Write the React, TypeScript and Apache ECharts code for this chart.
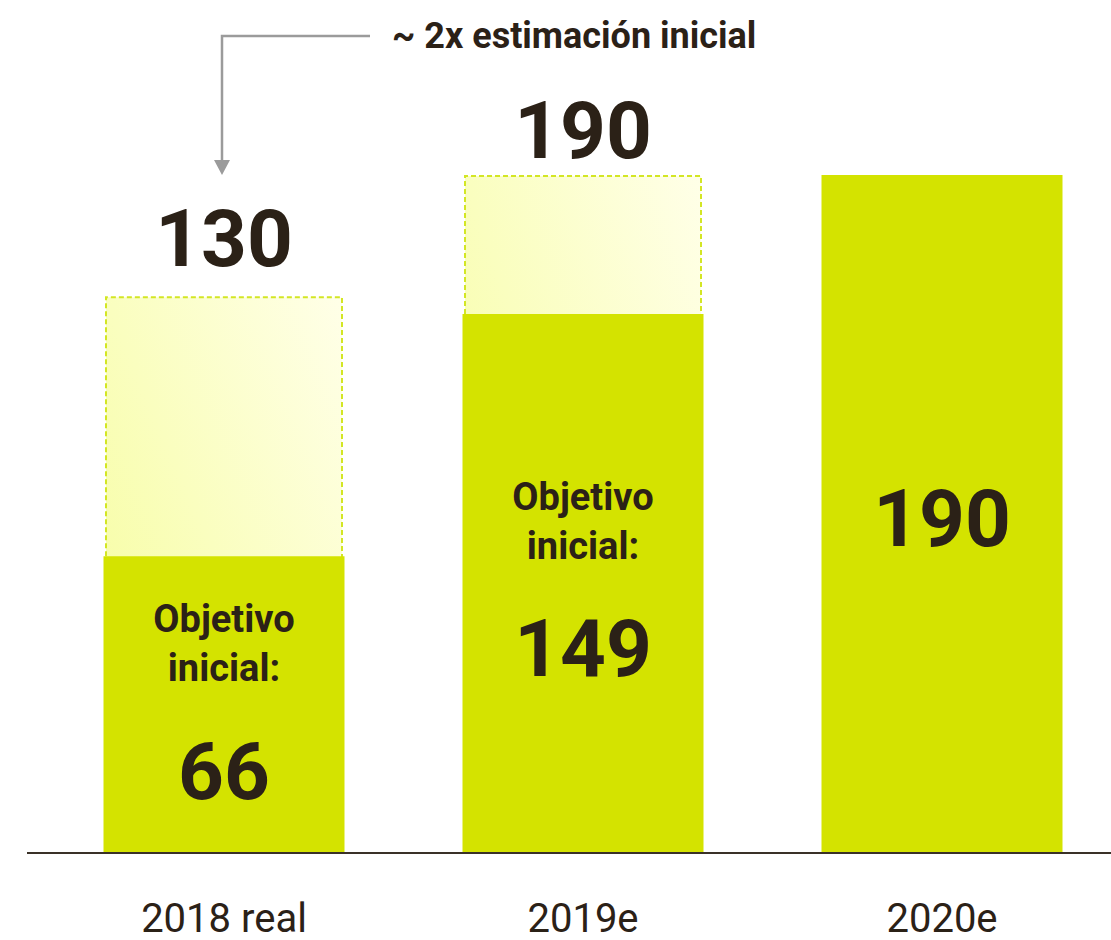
import React, { useEffect, useRef } from "react";
import * as echarts from "echarts";

// Categories and values
const categories = ["2018 real", "2019e", "2020e"];
// Displayed numbers
const estimateLabels = [130, 190, null];
const objectiveLabels = [66, 149, 190];
// Bar heights as drawn in the picture (axis units, 0..190)
const estimateHeights = [156, 190, null];
const objectiveHeights = [83, 151, 190];
const yMax = 190;
const titleText = "~ 2x estimación inicial";
const objectiveText = ["Objetivo", "inicial:"];

const DARK = "#2b2117";
const GREEN = "#d4e300";
const FONT = "Roboto";

export default function App() {
  const ref = useRef<HTMLDivElement>(null);
  useEffect(() => {
    if (!ref.current) return;
    const chart = echarts.init(ref.current, undefined, { renderer: "svg" });

    const estimateData = estimateHeights.map((v, i) => {
      if (v == null) return null;
      return {
        value: v,
        label: {
          show: true,
          position: "top",
          distance: i === 0 ? 17 : 4,
          formatter: String(estimateLabels[i]),
          fontFamily: FONT,
          fontWeight: "bold",
          fontSize: 80,
          lineHeight: 80,
          color: DARK,
        },
      };
    });

    const objectiveData = objectiveHeights.map((v, i) => {
      if (i === 2) {
        return {
          value: v,
          label: {
            show: true,
            position: "inside",
            offset: [0, 5],
            formatter: String(objectiveLabels[i]),
            fontFamily: FONT,
            fontWeight: "bold",
            fontSize: 80,
            lineHeight: 80,
            color: DARK,
          },
        };
      }
      const firstLineFromTop = i === 0 ? 63 : 183;
      const tLH = 49;
      const nLH = 158;
      const total = tLH * 2 + nLH;
      const centerY = firstLineFromTop - tLH / 2 + total / 2;
      return {
        value: v,
        label: {
          show: true,
          position: [120.5, centerY],
          align: "center",
          verticalAlign: "middle",
          formatter:
            "{t|" + objectiveText[0] + "}\n{t|" + objectiveText[1] + "}\n{n|" + objectiveLabels[i] + "}",
          rich: {
            t: {
              fontFamily: FONT,
              fontWeight: "bold",
              fontSize: 38,
              lineHeight: tLH,
              color: DARK,
              align: "center",
            },
            n: {
              fontFamily: FONT,
              fontWeight: "bold",
              fontSize: 80,
              lineHeight: nLH,
              color: DARK,
              align: "center",
            },
          },
        },
      };
    });

    chart.setOption({
      animation: false,
      backgroundColor: "#ffffff",
      grid: { left: 224, right: 169, top: 175, bottom: 88, containLabel: false },
      xAxis: [
        {
          type: "category",
          data: categories,
          boundaryGap: false,
          axisLine: { show: false },
          axisTick: { show: false },
          axisLabel: {
            margin: 46,
            fontFamily: FONT,
            fontSize: 40,
            color: DARK,
          },
        },
        {
          type: "category",
          data: categories,
          boundaryGap: false,
          show: false,
        },
      ],
      yAxis: {
        type: "value",
        min: 0,
        max: yMax,
        show: false,
        splitLine: { show: false },
      },
      series: [
        {
          type: "bar",
          xAxisIndex: 1,
          barWidth: 238,
          clip: false,
          data: estimateData,
          itemStyle: {
            color: new echarts.graphic.LinearGradient(0, 1, 1, 0, [
              { offset: 0, color: "#f5fd96" },
              { offset: 1, color: "#ffffe8" },
            ]),
            borderColor: "#d3e624",
            borderWidth: 2,
            borderType: [5, 3],
          },
        },
        {
          type: "bar",
          xAxisIndex: 0,
          barWidth: 241,
          clip: false,
          data: objectiveData,
          itemStyle: { color: GREEN },
        },
      ],
      graphic: [
        {
          type: "line",
          shape: { x1: 27, y1: 853, x2: 1111, y2: 853 },
          style: { stroke: "#3a3128", lineWidth: 2 },
          z: 100,
        },
        {
          type: "polyline",
          shape: { points: [[370, 36], [222, 36], [222, 162]] },
          style: { stroke: "#9b9b9b", lineWidth: 2.5, fill: null },
        },
        {
          type: "polygon",
          shape: { points: [[214, 160], [230, 160], [222, 175]] },
          style: { fill: "#9b9b9b" },
        },
        {
          type: "text",
          x: 392,
          y: 36,
          style: {
            text: titleText,
            fontFamily: FONT,
            fontWeight: "bold",
            fontSize: 36,
            fill: DARK,
            textAlign: "left",
            textVerticalAlign: "middle",
            verticalAlign: "middle",
          },
        },
      ],
    });
    return () => chart.dispose();
  }, []);
  return (
    <div
      ref={ref}
      style={{ position: "absolute", left: 0, top: 0, width: 1111, height: 940 }}
    />
  );
}
